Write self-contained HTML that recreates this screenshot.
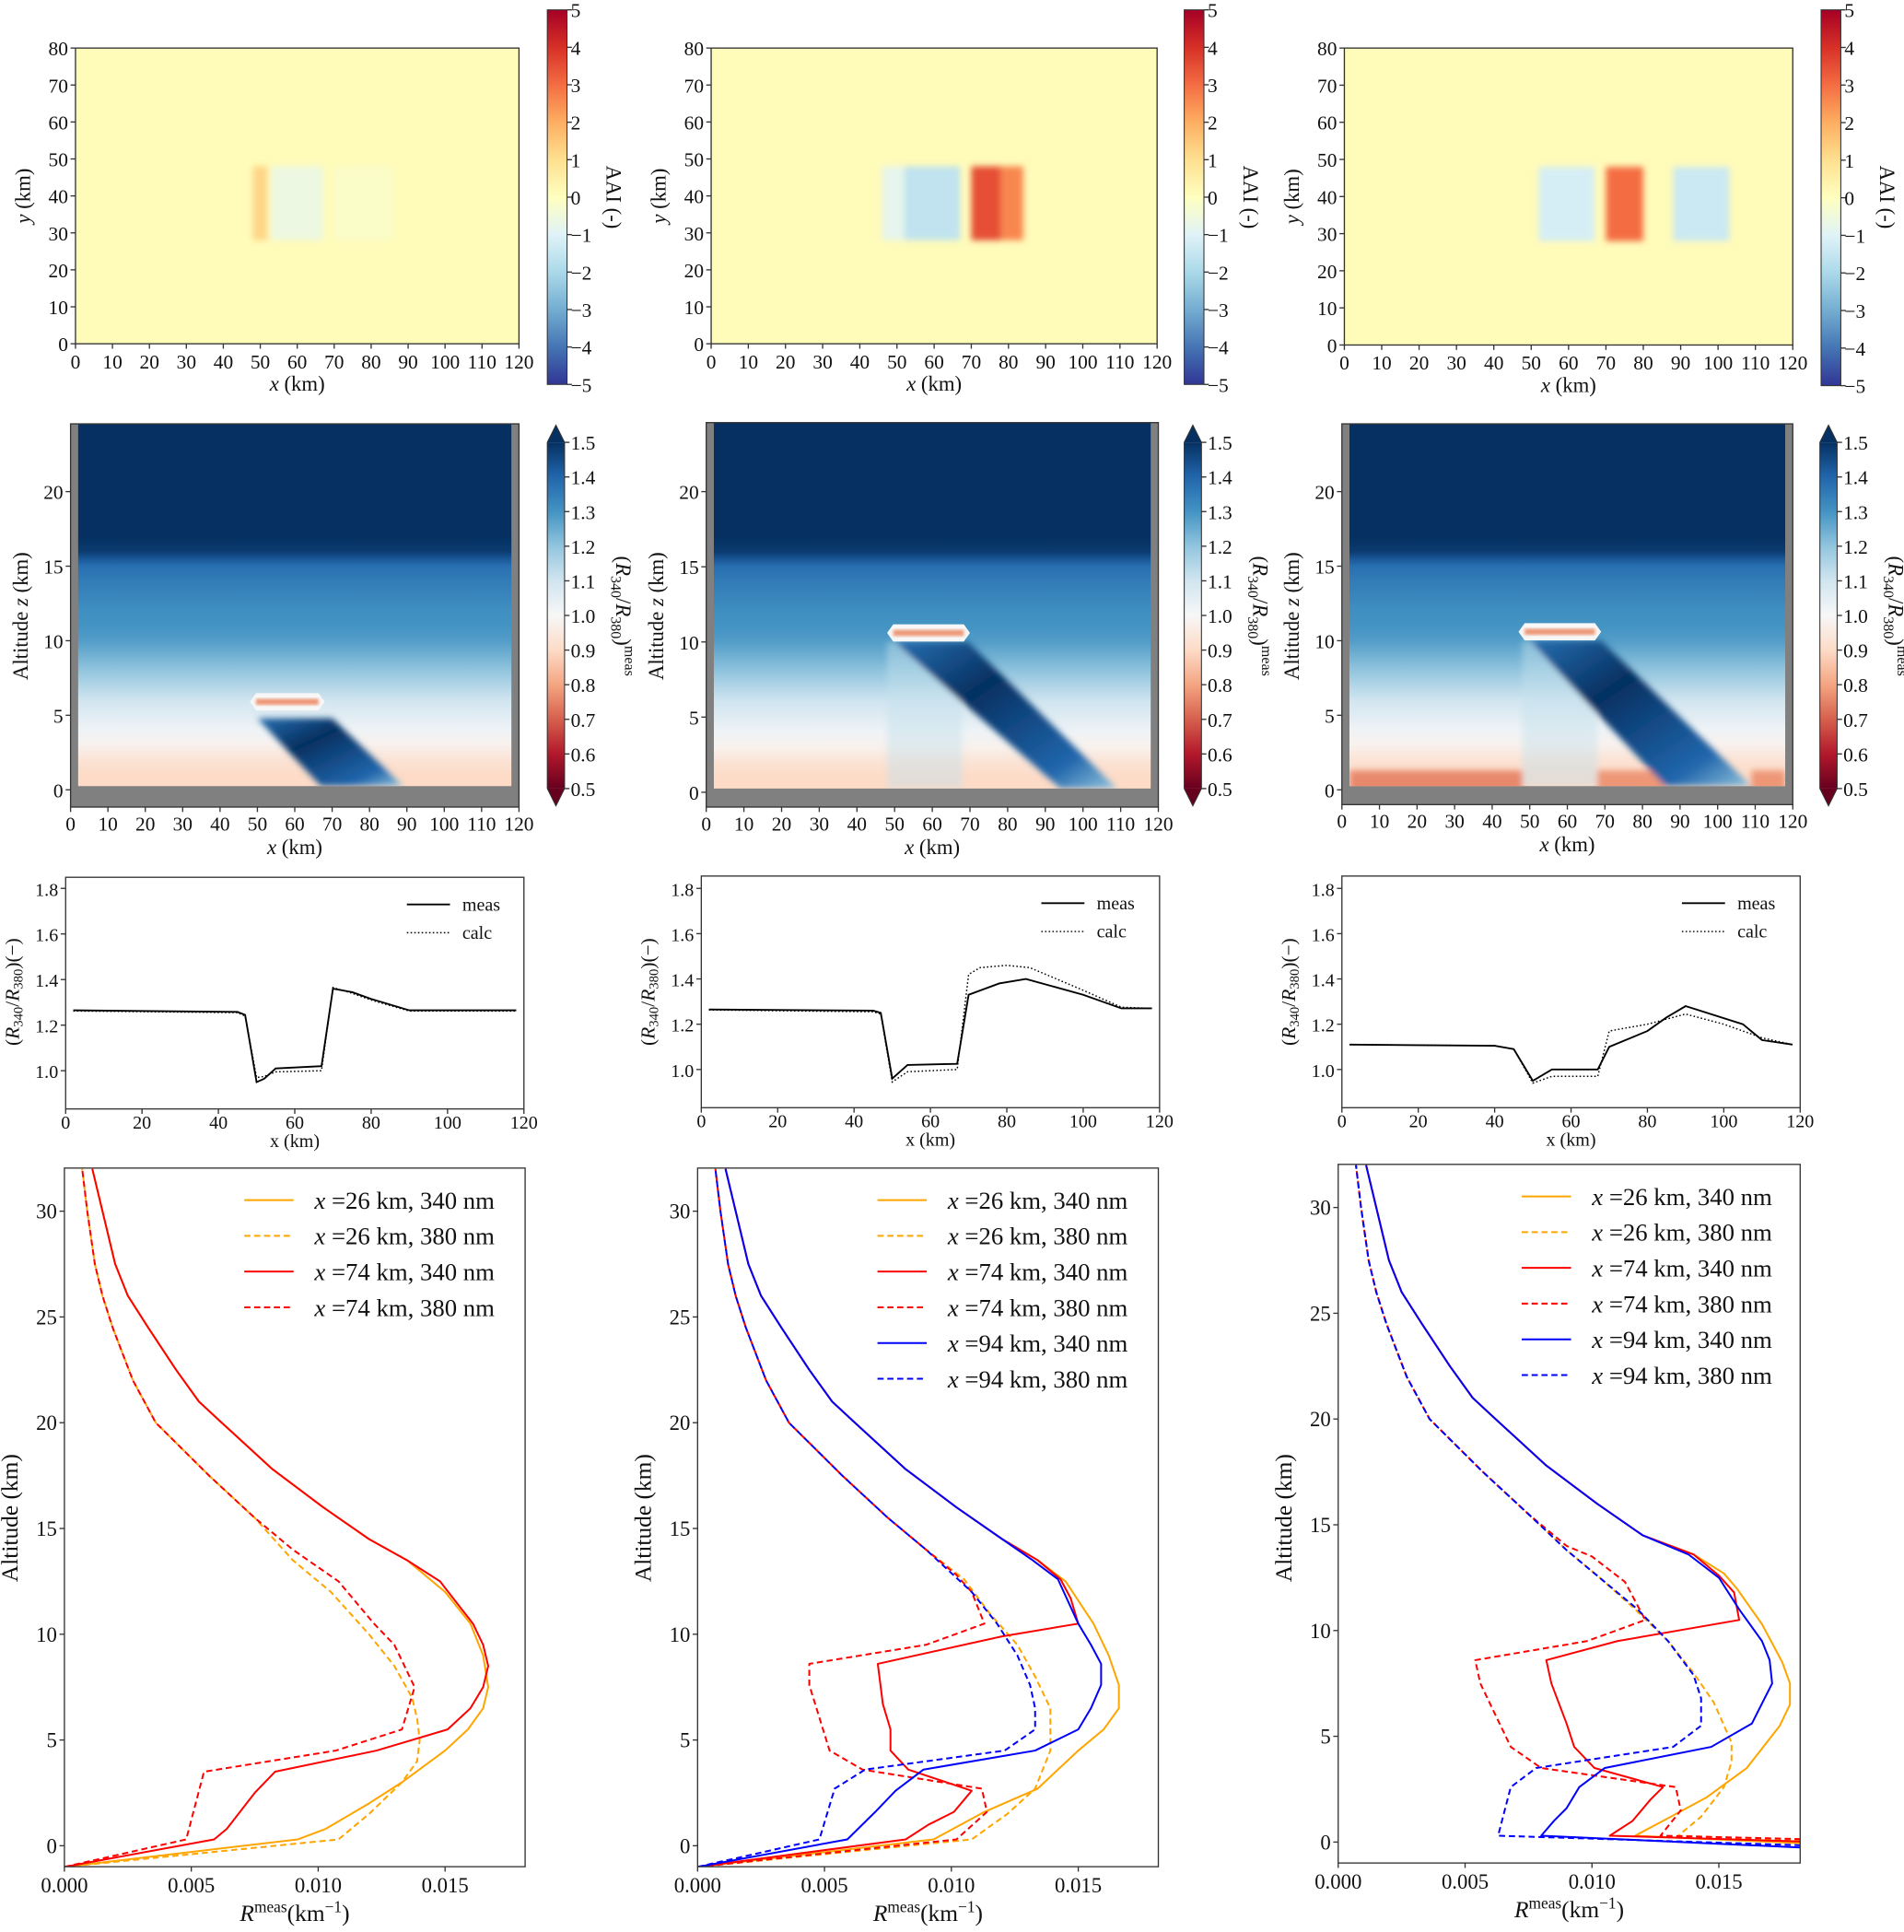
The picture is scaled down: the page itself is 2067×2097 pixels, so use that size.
<!DOCTYPE html>
<html><head><meta charset="utf-8">
<style>
html,body{margin:0;padding:0;background:#fff;}
svg{display:block;font-family:"Liberation Serif",serif;}
</style></head>
<body>
<svg id="fig" xmlns="http://www.w3.org/2000/svg" width="2067" height="2097" viewBox="0 0 1545 1568">
<defs>
<filter id="blur2" x="-20%" y="-20%" width="140%" height="140%"><feGaussianBlur stdDeviation="2.6"/></filter>
<filter id="blur1" x="-20%" y="-20%" width="140%" height="140%"><feGaussianBlur stdDeviation="1.2"/></filter>
</defs>
</svg>
<script>
// ---------- DATA ----------
const aaiBackground = 0.12;
const aaiBlobs1 = [[48,52,28,48,1.2],[53,67,28,48,-0.6],[70,86,28,48,-0.15]];
const aaiBlobs2 = [[46,52,28,48,-0.8],[52,67,28,48,-1.6],[70,78,28,48,3.5],[78,84,28,48,2.6]];
const aaiBlobs3 = [[52,67,28,48,-1.2],[70,80,28,48,3.0],[88,103,28,48,-1.4]];
const aaiTicks = [5,4,3,2,1,0,-1,-2,-3,-4,-5];
const mapXTicks = [0,10,20,30,40,50,60,70,80,90,100,110,120];
const mapYTicks = [0,10,20,30,40,50,60,70,80];

const profZ = [0,1,2,3,4,5,6,7,8,9,10,11,12,13,14,15,15.5,16,17,25];
const profV = [0.9,0.9,0.93,0.98,1.02,1.06,1.1,1.15,1.2,1.24,1.28,1.3,1.31,1.33,1.35,1.38,1.43,1.48,1.5,1.5];
const clouds1 = [[48,68,5.9]];
const clouds2 = [[48,70,10.6]];
const clouds3 = [[47,69,10.6]];
const shadow1 = [[50,4.8],[70,4.8],[89,0.25],[67,0.25]];
const shadow2 = [[50,10],[69.5,10],[109,0.25],[94,0.25]];
const shadow3 = [[50,10],[69,10],[109,0.25],[86,0.25]];
const column2 = [[48,68,0.25,10,1.12]];
const column3 = [[48,68,0.25,10,1.12]];
const ground3 = [[2,48,0.25,1.3,0.76],[68,86,0.25,1.3,0.78],[109,118,0.25,1.3,0.78]];
const ratioTicks = [1.5,1.4,1.3,1.2,1.1,1.0,0.9,0.8,0.7,0.6,0.5];
const altTicks = [0,5,10,15,20];

const r3X = [0,20,40,60,80,100,120];
const r3Y = [1.0,1.2,1.4,1.6,1.8];
const meas1X=[2,45,47,50,52,55,67,70,75,80,90,118];
const meas1Y=[1.265,1.258,1.245,0.95,0.965,1.01,1.02,1.36,1.345,1.315,1.265,1.265];
const calc1X=[2,45,47,50,52,55,67,70,75,80,90,118];
const calc1Y=[1.262,1.255,1.24,0.97,0.975,0.995,1.0,1.365,1.34,1.31,1.262,1.262];
const meas2X=[2,45,47,50,54,67,70,78,85,100,110,118];
const meas2Y=[1.265,1.26,1.25,0.96,1.02,1.025,1.33,1.38,1.40,1.33,1.27,1.27];
const calc2X=[2,45,47,50,54,67,70,73,80,86,100,110,118];
const calc2Y=[1.263,1.255,1.245,0.945,0.99,1.0,1.42,1.45,1.46,1.45,1.35,1.275,1.27];
const meas3X=[2,40,45,50,52,55,67,70,80,85,90,105,110,118];
const meas3Y=[1.11,1.105,1.09,0.95,0.97,1.0,1.0,1.1,1.17,1.23,1.28,1.2,1.13,1.11];
const calc3X=[2,40,45,50,55,67,70,80,90,100,110,118];
const calc3Y=[1.11,1.105,1.09,0.94,0.97,0.97,1.17,1.2,1.245,1.2,1.14,1.11];

const prX = [0,0.005,0.010,0.015];
const prY = [0,5,10,15,20,25,30];
const upSolidR=[0.0120,0.0102,0.0082,0.0062,0.0053,0.0044,0.0033,0.0025,0.0020,0.0015,0.0011];
const upSolidZ=[14.5,16,17.8,20,21,22.5,24.5,26,27.5,30,32];
const upDashR=[0.0075,0.0057,0.0036,0.0027,0.0019,0.0015,0.0012,0.0009,0.0007];
const upDashZ=[15.5,17.5,20,22,24.5,26,27.5,30,32];
const p1o340R=[0,0.0092,0.0103,0.0120,0.0133,0.0150,0.0159,0.0165,0.0167,0.0165,0.0160,0.0150,0.0135];
const p1o340Z=[-1,0.3,0.8,2,3,4.5,5.5,6.5,7.5,9,10.5,12,13.5];
const p1o380R=[0,0.0108,0.0120,0.0133,0.0139,0.0140,0.0139,0.0137,0.0130,0.0120,0.0105,0.0090];
const p1o380Z=[-1,0.3,1.5,3,4,5,6,7,8.5,10,12,13.5];
const p1r340R=[0,0.0059,0.0064,0.0075,0.0083,0.0123,0.0151,0.0160,0.0165,0.0167,0.0165,0.0161,0.0148,0.0135];
const p1r340Z=[-1,0.3,0.8,2.5,3.5,4.5,5.5,6.5,7.5,8.5,9.5,10.5,12.5,13.5];
const p1r380R=[0,0.0048,0.0055,0.0107,0.0133,0.0138,0.0130,0.0122,0.0108,0.0090];
const p1r380Z=[-1,0.3,3.5,4.5,5.5,7.5,9.5,10.5,12.5,14];
const p2o340R=[0,0.0093,0.0113,0.0134,0.0150,0.0160,0.0166,0.0166,0.0162,0.0156,0.0145,0.0134];
const p2o340Z=[-1,0.3,1.6,2.7,4.5,5.5,6.5,7.6,9,10.5,12.5,13.5];
const p2o380R=[0,0.0108,0.0122,0.0133,0.0139,0.0139,0.0139,0.0133,0.0126,0.0115,0.0105,0.0090];
const p2o380Z=[-1,0.3,1.5,2.7,4.5,5.5,6.5,8,9.5,11,12.6,14];
const p2r340R=[0,0.0082,0.0091,0.0101,0.0108,0.0083,0.0076,0.0076,0.0073,0.0071,0.0120,0.0150,0.0147,0.0143,0.0134];
const p2r340Z=[-1,0.3,1,1.6,2.6,3.6,4.5,5.5,6.7,8.6,9.9,10.5,11.7,12.6,13.5];
const p2r380R=[0,0.0102,0.0114,0.0112,0.0065,0.0052,0.0044,0.0044,0.0090,0.0113,0.0108,0.0102,0.0090];
const p2r380Z=[-1,0.3,1.6,2.7,3.6,4.5,7.6,8.6,9.5,10.5,12,12.8,14];
const p2b340R=[0,0.0059,0.0070,0.0078,0.0089,0.0133,0.0150,0.0155,0.0159,0.0159,0.0155,0.0150,0.0142,0.0132];
const p2b340Z=[-1,0.3,1.6,2.6,3.6,4.5,5.5,6.5,7.6,8.6,9.5,10.5,12.6,13.5];
const p2b380R=[0,0.0048,0.0054,0.0066,0.0121,0.0133,0.0133,0.0131,0.0126,0.0118,0.0108,0.0090];
const p2b380Z=[-1,0.3,2.7,3.6,4.5,5.5,6.5,7.6,9,10.5,12,14];
const p3o340R=[0.0190,0.0117,0.0128,0.0145,0.0161,0.0174,0.0178,0.0178,0.0175,0.0167,0.0157,0.0152,0.0140];
const p3o340Z=[-0.1,0.3,1,2.1,3.5,5.5,6.5,7.5,8.5,10.3,12,12.7,13.6];
const p3o380R=[0.0190,0.0134,0.0143,0.0152,0.0155,0.0155,0.0148,0.0140,0.0130,0.0117,0.0103,0.0090];
const p3o380Z=[0.05,0.3,1.2,2.6,3.8,4.7,6.6,8,9.5,11,12.5,13.8];
const p3r340R=[0.0190,0.0107,0.0116,0.0123,0.0128,0.0101,0.0093,0.0090,0.0084,0.0082,0.0110,0.0158,0.0156,0.0150,0.0140];
const p3r340Z=[0,0.3,1,2,2.6,3.5,4.5,5.6,7.5,8.6,9.5,10.5,11.8,12.6,13.6];
const p3r380R=[0.0190,0.0127,0.0135,0.0133,0.0080,0.0068,0.0056,0.0054,0.0098,0.0121,0.0113,0.0100,0.0090];
const p3r380Z=[0.12,0.3,1.5,2.6,3.5,4.5,7.5,8.6,9.5,10.5,12.3,13.5,14];
const p3b340R=[0.0190,0.0080,0.0085,0.0090,0.0095,0.0105,0.0147,0.0163,0.0171,0.0170,0.0167,0.0158,0.0150,0.0138];
const p3b340Z=[-0.3,0.3,1,1.6,2.6,3.5,4.5,5.6,7.5,8.6,9.5,11,12.5,13.6];
const p3b380R=[0.0190,0.0063,0.0068,0.0078,0.0132,0.0143,0.0143,0.0140,0.0130,0.0118,0.0100,0.0090];
const p3b380Z=[-0.18,0.3,2.6,3.5,4.5,5.5,6.8,7.9,9.5,11,12.8,13.8];

// ---------- HELPERS ----------
const NS="http://www.w3.org/2000/svg";
const svg=document.getElementById('fig');
function mk(tag,attrs,parent){const e=document.createElementNS(NS,tag);for(const k in attrs)e.setAttribute(k,attrs[k]);(parent||svg).appendChild(e);return e;}
function hex(c){return [parseInt(c.slice(1,3),16),parseInt(c.slice(3,5),16),parseInt(c.slice(5,7),16)];}
function cmap(stops,v){if(v<=stops[0][0])return stops[0][1];if(v>=stops[stops.length-1][0])return stops[stops.length-1][1];
 for(let i=0;i<stops.length-1;i++){const a=stops[i],b=stops[i+1];if(v>=a[0]&&v<=b[0]){const t=(v-a[0])/(b[0]-a[0]);const A=hex(a[1]),B=hex(b[1]);
 return 'rgb('+A.map((x,j)=>Math.round(x+(B[j]-x)*t)).join(',')+')';}}}
const RdYlBu=[[-5,'#313695'],[-4,'#4575b4'],[-3,'#74add1'],[-2,'#abd9e9'],[-1,'#e0f3f8'],[0,'#ffffbf'],[1,'#fee090'],[2,'#fdae61'],[3,'#f46d43'],[4,'#d73027'],[5,'#a50026']];
const RdBu=[[0.5,'#67001f'],[0.6,'#b2182b'],[0.7,'#d6604d'],[0.8,'#f4a582'],[0.9,'#fddbc7'],[1.0,'#f7f7f7'],[1.1,'#d1e5f0'],[1.2,'#92c5de'],[1.3,'#4393c3'],[1.4,'#2166ac'],[1.5,'#053061']];
function txt(x,y,s,size,anchor,parent,name){const t=mk('text',{x:x,y:y,'font-size':size,'text-anchor':anchor||'middle',fill:'#111'},parent);t.textContent=s;
 
 
 return t;}
function lin(d0,d1,p0,p1){return v=>p0+(v-d0)/(d1-d0)*(p1-p0);}
function fmtNum(v){return v<0?'\u2212'+Math.abs(v):String(v);}
function frame(x0,y0,x1,y1,parent){const r=mk('rect',{x:x0,y:y0,width:x1-x0,height:y1-y0,fill:'none',stroke:'#333','stroke-width':1},parent);
 
 }
function xTicks(ticks,sx,y,labelY,fmt,size,parent){ticks.forEach(t=>{const l=mk('line',{x1:sx(t),x2:sx(t),y1:y,y2:y+4,stroke:'#333'},parent);
 
 
 txt(sx(t),labelY,fmt(t),size,'middle',parent,'x-tick-label');});}
function yTicks(ticks,sy,x,fmt,size,parent){ticks.forEach(t=>{const l=mk('line',{x1:x-4,x2:x,y1:sy(t),y2:sy(t),stroke:'#333'},parent);
 
 
 txt(x-6,sy(t)+6,fmt(t),size,'end',parent,'y-tick-label');});}
function rotText(x,y,deg,html,size,parent,name){const t=mk('text',{transform:`translate(${x},${y}) rotate(${deg})`,'font-size':size,'text-anchor':'middle',fill:'#111'},parent);t.innerHTML=html;
 
 
 return t;}

// ---------- ROW 1 ----------
const row1=[{x0:61,x1:421,y0:39,y1:279,cb:444,cbY0:8,cbY1:312,blobs:aaiBlobs1},
 {x0:577,x1:939,y0:39,y1:279,cb:961,cbY0:8,cbY1:312,blobs:aaiBlobs2},
 {x0:1091,x1:1455,y0:39,y1:280,cb:1478,cbY0:8,cbY1:313,blobs:aaiBlobs3}];
row1.forEach((p,i)=>{
 const g=mk('g',{});
 
 
 const sx=lin(0,120,p.x0,p.x1), sy=lin(0,80,p.y1,p.y0);
 const cid='c1'+i; const cp=mk('clipPath',{id:cid},g); mk('rect',{x:p.x0,y:p.y0,width:p.x1-p.x0,height:p.y1-p.y0},cp);
 const hm=mk('g',{'clip-path':`url(#${cid})`},g);
 const bg=mk('rect',{x:p.x0,y:p.y0,width:p.x1-p.x0,height:p.y1-p.y0,fill:cmap(RdYlBu,aaiBackground)},hm);
 
 
 const bl=mk('g',{filter:'url(#blur2)'},hm);
 p.blobs.forEach(b=>{const r=mk('rect',{x:sx(b[0]),y:sy(b[3]),width:sx(b[1])-sx(b[0]),height:sy(b[2])-sy(b[3]),fill:cmap(RdYlBu,b[4])},bl);
  
  });
 frame(p.x0,p.y0,p.x1,p.y1,g);
 xTicks(mapXTicks,sx,p.y1,p.y1+20,String,16,g);
 yTicks(mapYTicks,sy,p.x0,String,16,g);
 txt((p.x0+p.x1)/2,p.y1+38,'',17,'middle',g,'x-axis-title').innerHTML='<tspan font-style="italic">x</tspan> (km)';
 rotText(p.x0-37,(p.y0+p.y1)/2,-90,'<tspan font-style="italic">y</tspan> (km)',17,g,'y-axis-title');
 const gid='gr1'+i; const lg=mk('linearGradient',{id:gid,x1:0,y1:1,x2:0,y2:0},g);
 RdYlBu.forEach(s=>mk('stop',{offset:(s[0]+5)/10,'stop-color':s[1]},lg));
 const cb=mk('rect',{x:p.cb,y:p.cbY0,width:16,height:p.cbY1-p.cbY0,fill:`url(#${gid})`,stroke:'#333','stroke-width':0.8},g);
 
 
 const scb=lin(-5,5,p.cbY1,p.cbY0);
 aaiTicks.forEach(t=>{mk('line',{x1:p.cb+16,x2:p.cb+20,y1:scb(t),y2:scb(t),stroke:'#333'},g);txt(p.cb+19,scb(t)+6,fmtNum(t),16,'start',g,'colorbar-tick-label');});
 rotText(p.cb+48,160,90,'AAI (-)',17,g,'colorbar-title');
});

// ---------- ROW 2 ----------
const row2=[{x0:57,x1:421,y0:344,y1:655,z0:641,z20:399,cb:444,clouds:clouds1,shadow:shadow1,cols:[],ground:[]},
 {x0:573,x1:940,y0:343,y1:655,z0:643,z20:399,cb:961,clouds:clouds2,shadow:shadow2,cols:column2,ground:[]},
 {x0:1089,x1:1455,y0:344,y1:653,z0:641,z20:399,cb:1477,clouds:clouds3,shadow:shadow3,cols:column3,ground:ground3}];
row2.forEach((p,i)=>{
 const g=mk('g',{});
 
 
 const sx=lin(0,120,p.x0,p.x1), sz=lin(0,20,p.z0,p.z20);
 const grey=mk('rect',{x:p.x0,y:p.y0,width:p.x1-p.x0,height:p.y1-p.y0,fill:'#808080'},g);
 
 
 const cid='c2'+i; const cp=mk('clipPath',{id:cid},g); mk('rect',{x:sx(2),y:p.y0,width:sx(118)-sx(2),height:sz(0.25)-p.y0},cp);
 const hm=mk('g',{'clip-path':`url(#${cid})`},g);
 const top=sz(25), bot=sz(0);
 const pgid='pg'+i; const pgr=mk('linearGradient',{id:pgid,gradientUnits:'userSpaceOnUse',x1:0,y1:bot,x2:0,y2:top},g);
 profZ.forEach((z,k)=>mk('stop',{offset:z/25,'stop-color':cmap(RdBu,profV[k])},pgr));
 const bgr=mk('rect',{x:sx(2),y:top,width:sx(118)-sx(2),height:bot-top,fill:`url(#${pgid})`},hm);
 
 
 const bl=mk('g',{filter:'url(#blur2)'},hm);
 p.ground.forEach(b=>{const r=mk('rect',{x:sx(b[0]),y:sz(b[3]),width:sx(b[1])-sx(b[0]),height:sz(b[2])-sz(b[3])+6,fill:cmap(RdBu,b[4])},bl);
  
  });
 p.cols.forEach(b=>{const r=mk('rect',{x:sx(b[0]),y:sz(b[3]),width:sx(b[1])-sx(b[0]),height:sz(b[2])-sz(b[3]),fill:cmap(RdBu,b[4]),opacity:0.45},bl);
  
  });
 const sgid='sg'+i; const sg=mk('linearGradient',{id:sgid,x1:0,y1:0,x2:1,y2:1},g);
 mk('stop',{offset:0,'stop-color':cmap(RdBu,1.38)},sg);mk('stop',{offset:0.35,'stop-color':cmap(RdBu,1.55)},sg);mk('stop',{offset:0.8,'stop-color':cmap(RdBu,1.4)},sg);mk('stop',{offset:1,'stop-color':cmap(RdBu,1.2)},sg);
 const sh=mk('polygon',{points:p.shadow.map(q=>sx(q[0])+','+sz(q[1])).join(' '),fill:`url(#${sgid})`},bl);
 
 
 p.clouds.forEach(c=>{const a=sx(c[0]),b=sx(c[1]),y=sz(c[2]);
  const w=mk('polygon',{points:`${a},${y} ${a+5},${y-7} ${b-5},${y-7} ${b},${y} ${b-5},${y+7} ${a+5},${y+7}`,fill:'#f7f7f7'},hm);
  
  
  const rl=mk('rect',{x:a+5,y:y-2.5,width:b-a-10,height:5,fill:cmap(RdBu,0.78),filter:'url(#blur1)'},hm);
  
  });
 frame(p.x0,p.y0,p.x1,p.y1,g);
 xTicks(mapXTicks,sx,p.y1,p.y1+19,String,16,g);
 yTicks(altTicks,sz,p.x0,String,16,g);
 txt((p.x0+p.x1)/2,p.y1+38,'',17,'middle',g,'x-axis-title').innerHTML='<tspan font-style="italic">x</tspan> (km)';
 rotText(p.x0-35,500,-90,'Altitude <tspan font-style="italic">z</tspan> (km)',17,g,'y-axis-title');
 const gid='gr2'+i; const lg=mk('linearGradient',{id:gid,x1:0,y1:1,x2:0,y2:0},g);
 RdBu.forEach(s=>mk('stop',{offset:(s[0]-0.5),'stop-color':s[1]},lg));
 const ct=359,cbt=640;
 const cb=mk('rect',{x:p.cb,y:ct,width:14,height:cbt-ct,fill:`url(#${gid})`},g);
 
 
 mk('polygon',{points:`${p.cb},${ct} ${p.cb+7},${ct-14} ${p.cb+14},${ct}`,fill:'#053061'},g);
 mk('polygon',{points:`${p.cb},${cbt} ${p.cb+7},${cbt+14} ${p.cb+14},${cbt}`,fill:'#67001f'},g);
 mk('polygon',{points:`${p.cb},${ct} ${p.cb+7},${ct-14} ${p.cb+14},${ct} ${p.cb+14},${cbt} ${p.cb+7},${cbt+14} ${p.cb},${cbt}`,fill:'none',stroke:'#333','stroke-width':0.8},g);
 const scb=lin(0.5,1.5,cbt,ct);
 ratioTicks.forEach(t=>{mk('line',{x1:p.cb+14,x2:p.cb+18,y1:scb(t),y2:scb(t),stroke:'#333'},g);txt(p.cb+19,scb(t)+6,t.toFixed(1),16,'start',g,'colorbar-tick-label');});
 rotText(p.cb+56,500,90,'(<tspan font-style="italic">R</tspan><tspan font-size="12" dy="4">340</tspan><tspan dy="-4">/</tspan><tspan font-style="italic">R</tspan><tspan font-size="12" dy="4">380</tspan><tspan dy="-4">)</tspan><tspan font-size="12" dy="-7">meas</tspan>',17,g,'colorbar-title');
});

// ---------- ROW 3 ----------
const row3=[{x0:53,x1:425,y0:712,y1:900,y10:869,y18:721,mx:meas1X,my:meas1Y,cx:calc1X,cy:calc1Y,lg:330},
 {x0:569,x1:941,y0:711,y1:899,y10:868,y18:721,mx:meas2X,my:meas2Y,cx:calc2X,cy:calc2Y,lg:845},
 {x0:1089,x1:1461,y0:711,y1:899,y10:868,y18:721,mx:meas3X,my:meas3Y,cx:calc3X,cy:calc3Y,lg:1365}];
row3.forEach((p,i)=>{
 const g=mk('g',{});
 
 
 const sx=lin(0,120,p.x0,p.x1), sy=lin(1.0,1.8,p.y10,p.y18);
 const m=mk('polyline',{points:p.mx.map((x,k)=>sx(x)+','+sy(p.my[k])).join(' '),fill:'none',stroke:'#000','stroke-width':1.4},g);
 
 
 const c=mk('polyline',{points:p.cx.map((x,k)=>sx(x)+','+sy(p.cy[k])).join(' '),fill:'none',stroke:'#000','stroke-width':1.1,'stroke-dasharray':'1.2 1.8'},g);
 
 
 frame(p.x0,p.y0,p.x1,p.y1,g);
 xTicks(r3X,sx,p.y1,p.y1+16,String,15,g);
 yTicks(r3Y,sy,p.x0,v=>v.toFixed(1),15,g);
 txt((p.x0+p.x1)/2,p.y1+31,'x (km)',15,'middle',g,'x-axis-title');
 rotText(p.x0-38,805,-90,'(<tspan font-style="italic">R</tspan><tspan font-size="11" dy="3">340</tspan><tspan dy="-3">/</tspan><tspan font-style="italic">R</tspan><tspan font-size="11" dy="3">380</tspan><tspan dy="-3">)(\u2212)</tspan>',16,g,'y-axis-title');
 const l1=mk('line',{x1:p.lg,x2:p.lg+35,y1:p.y0+22,y2:p.y0+22,stroke:'#000','stroke-width':1.4},g);
 
 
 txt(p.lg+45,p.y0+27,'meas',15,'start',g,'legend-meas');
 const l2=mk('line',{x1:p.lg,x2:p.lg+35,y1:p.y0+45,y2:p.y0+45,stroke:'#000','stroke-width':1.1,'stroke-dasharray':'1.2 1.8'},g);
 
 
 txt(p.lg+45,p.y0+50,'calc',15,'start',g,'legend-calc');
});

// ---------- ROW 4 ----------
const ORANGE='#ffa500',RED='#ff0000',BLUE='#0000ff';
const row4=[{x0:52,x1:426,y0:948,y1:1515,zy0:1498,zy30:983,lgx:198,lgy:974,series:[
  ['x =26 km, 340 nm',ORANGE,false,p1o340R,p1o340Z],['x =26 km, 380 nm',ORANGE,true,p1o380R,p1o380Z],
  ['x =74 km, 340 nm',RED,false,p1r340R,p1r340Z],['x =74 km, 380 nm',RED,true,p1r380R,p1r380Z]]},
 {x0:566,x1:940,y0:948,y1:1515,zy0:1498,zy30:983,lgx:712,lgy:974,series:[
  ['x =26 km, 340 nm',ORANGE,false,p2o340R,p2o340Z],['x =26 km, 380 nm',ORANGE,true,p2o380R,p2o380Z],
  ['x =74 km, 340 nm',RED,false,p2r340R,p2r340Z],['x =74 km, 380 nm',RED,true,p2r380R,p2r380Z],
  ['x =94 km, 340 nm',BLUE,false,p2b340R,p2b340Z],['x =94 km, 380 nm',BLUE,true,p2b380R,p2b380Z]]},
 {x0:1086,x1:1461,y0:945,y1:1512,zy0:1495,zy30:980,lgx:1235,lgy:971,series:[
  ['x =26 km, 340 nm',ORANGE,false,p3o340R,p3o340Z],['x =26 km, 380 nm',ORANGE,true,p3o380R,p3o380Z],
  ['x =74 km, 340 nm',RED,false,p3r340R,p3r340Z],['x =74 km, 380 nm',RED,true,p3r380R,p3r380Z],
  ['x =94 km, 340 nm',BLUE,false,p3b340R,p3b340Z],['x =94 km, 380 nm',BLUE,true,p3b380R,p3b380Z]]}];
row4.forEach((p,i)=>{
 const g=mk('g',{});
 
 
 const sx=lin(0,0.005,p.x0,p.x0+103), sz=lin(0,30,p.zy0,p.zy30);
 const cid='c4'+i; const cp=mk('clipPath',{id:cid},g); mk('rect',{x:p.x0,y:p.y0,width:p.x1-p.x0,height:p.y1-p.y0},cp);
 const pg=mk('g',{'clip-path':`url(#${cid})`},g);
 p.series.forEach(s=>{
  const R=s[3].concat(s[2]?upDashR:upSolidR), Z=s[4].concat(s[2]?upDashZ:upSolidZ);
  const a={points:R.map((r,k)=>sx(r)+','+sz(Z[k])).join(' '),fill:'none',stroke:s[1],'stroke-width':1.5,'stroke-linejoin':'round'};
  if(s[2])a['stroke-dasharray']='5 3';
  const pl=mk('polyline',a,pg);
  
  
 });
 frame(p.x0,p.y0,p.x1,p.y1,g);
 xTicks(prX,sx,p.y1,p.y1+21,v=>v.toFixed(3),17,g);
 yTicks(prY,sz,p.x0,String,17,g);
 txt((p.x0+p.x1)/2,p.y1+44,'',19,'middle',g,'x-axis-title').innerHTML='<tspan font-style="italic">R</tspan><tspan font-size="13" dy="-7">meas</tspan><tspan dy="7">(km</tspan><tspan font-size="13" dy="-7">\u22121</tspan><tspan dy="7">)</tspan>';
 rotText(p.x0-38,1232,-90,'Altitude (km)',19,g,'y-axis-title');
 p.series.forEach((s,k)=>{
  const y=p.lgy+29*k;
  const a={x1:p.lgx,x2:p.lgx+40,y1:y,y2:y,stroke:s[1],'stroke-width':1.5};
  if(s[2])a['stroke-dasharray']='5 3';
  const ln=mk('line',a,g);
  
  
  const t=txt(p.lgx+57,y+7,'',20,'start',g,'legend-entry');
  t.innerHTML='<tspan font-style="italic">x</tspan> '+s[0].slice(2);
 });
});
</script>
</body></html>
